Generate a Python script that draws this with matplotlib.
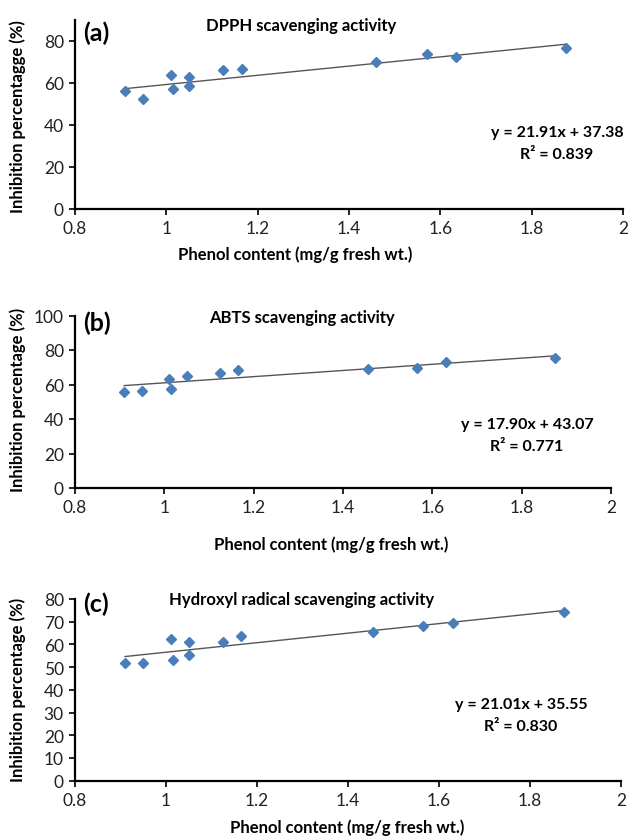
"""
plot.py

phenol content vs scavenging activity (3 panels)
"""
import matplotlib
matplotlib.use("Agg")
import matplotlib.pyplot as plt
from matplotlib.ticker import FuncFormatter

plt.rcParams["font.family"] = ["Lato", "DejaVu Sans"]

# (a) DPPH
x_dpph = [0.91, 0.95, 1.01, 1.015, 1.05, 1.05, 1.125, 1.165, 1.46, 1.57, 1.635, 1.875]
y_dpph = [56.3, 52.3, 63.7, 57.2, 62.9, 58.5, 66.3, 66.8, 70.1, 73.7, 72.4, 76.8]

# (b) ABTS
x_abts = [0.91, 0.95, 1.01, 1.015, 1.05, 1.125, 1.165, 1.455, 1.565, 1.63, 1.875]
y_abts = [55.5, 56.0, 63.2, 57.2, 64.9, 66.5, 68.2, 68.7, 69.4, 73.2, 75.6]

# (c) Hydroxyl radical
x_oh = [0.91, 0.95, 1.01, 1.015, 1.05, 1.05, 1.125, 1.165, 1.455, 1.565, 1.63, 1.875]
y_oh = [52.0, 51.7, 62.6, 53.3, 61.0, 55.4, 61.0, 63.9, 65.6, 68.1, 69.5, 74.4]

# trend line : slope, intercept, r2
fit_dpph = (21.91, 37.38, "0.839")
fit_abts = (17.90, 43.07, "0.771")
fit_oh = (21.01, 35.55, "0.830")

titles = ["DPPH scavenging activity", "ABTS scavenging activity",
          "Hydroxyl radical scavenging activity"]
tags = ["(a)", "(b)", "(c)"]
ylabels = ["Inhibition percentagge (%)", "Inhibition percentage (%)",
           "Inhibition percentage (%)"]
xlabel = "Phenol content (mg/g fresh wt.)"

W, H = 630, 837
fig = plt.figure(figsize=(W / 100, H / 100), dpi=100)


def px(x, y):
    # pixel -> figure fraction
    return x / W, 1 - y / H


def box(l, r, b, t):
    return [l / W, 1 - b / H, (r - l) / W, (b - t) / H]


# panel settings : axes box, ylim, ytick step, text pixel spots
panels = [
    dict(x=x_dpph, y=y_dpph, fit=fit_dpph, pos=box(75, 623, 210, 21),
         ylim=90, step=20, top=80,
         tag=(83, 33), title=(301, 26), eq=(557, 133), r2=(557, 155),
         xl=(295, 255), yl=(18, 117)),
    dict(x=x_abts, y=y_abts, fit=fit_abts, pos=box(75, 611, 489, 316.5),
         ylim=100, step=20, top=100,
         tag=(83, 323), title=(302, 318), eq=(527, 425), r2=(527, 447),
         xl=(331, 545), yl=(18, 400)),
    dict(x=x_oh, y=y_oh, fit=fit_oh, pos=box(75, 621, 781.7, 600),
         ylim=80, step=10, top=80,
         tag=(83, 604), title=(302, 600), eq=(521, 705), r2=(521, 727),
         xl=(347, 828), yl=(18, 690)),
]

blue = "#4a7ebb"
for i, p in enumerate(panels):
    ax = fig.add_axes(p["pos"])
    ax.plot(p["x"], p["y"], "D", color=blue, ms=4.6, zorder=3)

    a, b, r2 = p["fit"]
    xs = [min(p["x"]), max(p["x"])]
    ax.plot(xs, [a * v + b for v in xs], "-", color="#555555", lw=1.0)

    ax.set_xlim(0.8, 2.0)
    ax.set_ylim(0, p["ylim"])
    ax.set_xticks([0.8, 1.0, 1.2, 1.4, 1.6, 1.8, 2.0])
    ax.set_yticks(range(0, p["top"] + 1, p["step"]))
    ax.xaxis.set_major_formatter(FuncFormatter(lambda v, _: "%g" % round(v, 1)))

    for s in ["top", "right"]:
        ax.spines[s].set_visible(False)
    for s in ["left", "bottom"]:
        ax.spines[s].set_linewidth(1.6)
    ax.tick_params(length=4, width=1.4, labelsize=12.5, colors="#222222",
                   pad=4)
    ax.patch.set_alpha(0)

    fig.text(*px(*p["tag"]), tags[i], fontsize=18, fontweight="bold",
             ha="left", va="center")
    fig.text(*px(*p["title"]), titles[i], fontsize=12, fontweight="bold",
             ha="center", va="center")
    fig.text(*px(*p["eq"]), "y = %.2fx + %.2f" % (a, b), fontsize=11.5,
             fontweight="bold", ha="center", va="center")
    fig.text(*px(*p["r2"]), "R² = " + r2, fontsize=11.5, fontweight="bold",
             ha="center", va="center")
    fig.text(*px(*p["xl"]), xlabel, fontsize=12, fontweight="bold",
             ha="center", va="center")
    fig.text(*px(*p["yl"]), ylabels[i], fontsize=12, fontweight="bold",
             ha="center", va="center", rotation=90)

fig.savefig("out.png", dpi=100)
